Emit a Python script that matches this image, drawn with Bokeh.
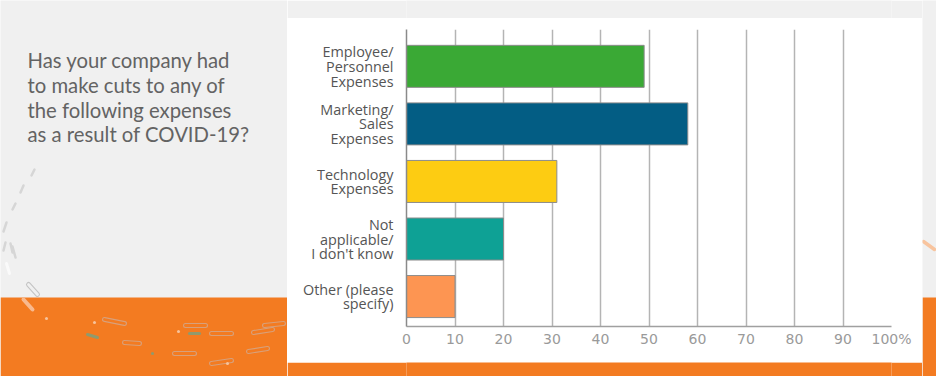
from bokeh.plotting import figure
from bokeh.models import Range1d, FixedTicker
from bokeh.layouts import row, column
from bokeh.core.properties import value
from bokeh.embed import file_html
from bokeh.resources import INLINE

# ---- data ----
categories = [
    "Employee/\nPersonnel\nExpenses",
    "Marketing/\nSales\nExpenses",
    "Technology\nExpenses",
    "Not\napplicable/\nI don't know",
    "Other (please\nspecify)",
]
values = [49, 58, 31, 20, 10]
bar_colors = ["#3aa935", "#035d84", "#fdcc12", "#0ea195", "#fd9552"]
x_ticks = [0, 10, 20, 30, 40, 50, 60, 70, 80, 90, 100]
x_tick_labels = ["0", "10", "20", "30", "40", "50", "60", "70", "80", "90", "100%"]
title_lines = [
    "Has your company had",
    "to make cuts to any of",
    "the following expenses",
    "as a result of COVID-19?",
]

GRAY = "#f0f0f0"
ORANGE = "#f37b21"
TOTAL_H = 376
BAND_TOP = 297


def bare(width, height, bg):
    f = figure(width=width, height=height, x_range=Range1d(0, width),
               y_range=Range1d(height, 0), output_backend="svg",
               toolbar_location=None, x_axis_location=None, y_axis_location=None,
               min_border=0)
    f.background_fill_color = bg
    f.border_fill_color = bg
    f.outline_line_color = None
    f.xgrid.grid_line_color = None
    f.ygrid.grid_line_color = None
    return f


# ---- left area: title and decorations ----
left = bare(287, TOTAL_H, GRAY)
left.quad(left=[0], right=[287], top=[BAND_TOP], bottom=[TOTAL_H],
          fill_color=ORANGE, line_color=None)
# faint dashes
left.segment(x0=[31, 20, 12, 3, 3, 10, 12], y0=[175, 192, 209, 231, 250, 243, 246],
             x1=[34, 23, 15, 6, 5, 12, 15], y1=[169, 185, 203, 222, 242, 252, 257],
             line_color="#d6d6d6", line_width=2.5, line_cap="round")
left.segment(x0=[6], y0=[263], x1=[9], y1=[273], line_color="#fafafa",
             line_width=3, line_cap="round")
# outlined pills
px0 = [28, 104, 124, 174, 185, 211, 211, 248, 253, 264]
py0 = [284, 319, 342, 353, 325, 333, 363, 351, 332, 325]
px1 = [37, 124, 139, 194, 205, 231, 231, 267, 272, 283]
py1 = [294, 323, 343, 353, 325, 333, 360, 348, 329, 323]
pill_col = ["#c4c4c4"] + ["#d8a07a"] * 9
inner_col = [GRAY] + [ORANGE] * 9
left.segment(x0=px0, y0=py0, x1=px1, y1=py1, line_color=pill_col,
             line_width=5, line_cap="round")
left.segment(x0=px0, y0=py0, x1=px1, y1=py1, line_color=inner_col,
             line_width=2.8, line_cap="round")
# filled dashes
left.segment(x0=[23, 87, 189], y0=[299, 334, 333], x1=[32, 97, 199], y1=[309, 337, 333],
             line_color=["#f8b98e", "#8f9a6e", "#8f9a6e"], line_width=[4, 3, 3],
             line_cap="round")
left.scatter(x=[46, 94, 178, 152, 227], y=[318, 322, 331, 353, 363], size=3,
             fill_color=["#f6c39c", "#f6c39c", "#f6c39c", "#8f9a6e", "#f6c39c"],
             line_color=None)
# title
left.text(x=[27] * len(title_lines), y=[59.5, 84.5, 109, 133.5], text=title_lines,
          text_baseline="alphabetic", text_align="left",
          text_font=value("Lato"), text_font_size=value("20.3px"),
          text_color="#636363")

# ---- middle column ----
top_strip = bare(635, 18, GRAY)
bottom_strip = bare(635, 14, ORANGE)

ypos = list(range(len(categories) - 1, -1, -1))

p = figure(
    width=635, height=344,
    x_range=Range1d(0, 100), y_range=Range1d(-0.52, 4.64),
    output_backend="svg", toolbar_location=None,
    min_border_left=119, min_border_right=31,
    min_border_top=11, min_border_bottom=36,
)
p.border_fill_color = "#ffffff"
p.background_fill_color = "#ffffff"
p.outline_line_color = None

p.hbar(y=ypos, left=0, right=values, height=0.73, fill_color=bar_colors,
       line_color="#8c8c8c", line_width=1)

p.xaxis.ticker = FixedTicker(ticks=x_ticks)
p.xaxis.major_label_overrides = {t: l for t, l in zip(x_ticks, x_tick_labels)}
p.xaxis.axis_line_color = "#a0a0a0"
p.xaxis.axis_line_width = 1.5
p.xaxis.major_tick_line_color = None
p.xaxis.major_tick_out = 0
p.xaxis.major_tick_in = 0
p.xaxis.minor_tick_line_color = None
p.xaxis.major_label_text_color = "#9a9a9a"
p.xaxis.major_label_text_font = "DejaVu Sans"
p.xaxis.major_label_text_font_size = "14px"
p.xaxis.major_label_standoff = 4

p.yaxis.ticker = FixedTicker(ticks=ypos)
p.yaxis.major_label_overrides = {y: c for y, c in zip(ypos, categories)}
p.yaxis.axis_line_color = "#8a8a8a"
p.yaxis.axis_line_width = 1.5
p.yaxis.major_tick_line_color = None
p.yaxis.major_tick_out = 0
p.yaxis.major_tick_in = 0
p.yaxis.minor_tick_line_color = None
p.yaxis.major_label_text_color = "#555555"
p.yaxis.major_label_text_font = "Open Sans"
p.yaxis.major_label_text_font_size = "14.4px"
p.yaxis.major_label_text_line_height = 0.78
p.yaxis.major_label_standoff = 13

p.xgrid.ticker = FixedTicker(ticks=x_ticks)
p.xgrid.grid_line_color = "#b4b4b4"
p.xgrid.grid_line_width = 1.5
p.ygrid.grid_line_color = None

middle = column(top_strip, p, bottom_strip, spacing=0)

# ---- right edge ----
right = bare(14, TOTAL_H, GRAY)
right.quad(left=[0], right=[14], top=[BAND_TOP], bottom=[TOTAL_H],
           fill_color=ORANGE, line_color=None)
right.segment(x0=[1], y0=[241], x1=[12], y1=[249], line_color="#f8c49e",
              line_width=3.5, line_cap="round")

layout = row(left, middle, right, spacing=0)

open("out.html", "w").write(file_html(layout, INLINE))
